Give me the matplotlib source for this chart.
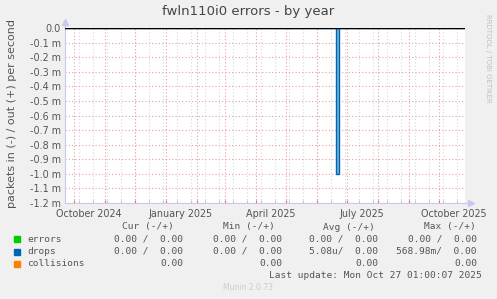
#!/usr/bin/env python3
"""Munin style yearly error graph for fwln110i0."""

import matplotlib
matplotlib.use("Agg")
import matplotlib.pyplot as plt
import matplotlib.dates as mdates
import numpy as np
import pandas as pd

# window: 400 days ending at last update
start = pd.Timestamp("2024-09-22 01:00")
end = pd.Timestamp("2025-10-27 01:00")

# drops (in, per second) -- a single spike in June 2025
drops_dates = ["2024-09-22", "2025-06-20", "2025-06-23", "2025-10-27"]
drops_in = [0.0, 1.0e-3, 0.0, 0.0]

y_ticks = [0.0, -0.1e-3, -0.2e-3, -0.3e-3, -0.4e-3, -0.5e-3, -0.6e-3,
           -0.7e-3, -0.8e-3, -0.9e-3, -1.0e-3, -1.1e-3, -1.2e-3]
y_labels = ["0.0", "-0.1 m", "-0.2 m", "-0.3 m", "-0.4 m", "-0.5 m", "-0.6 m",
            "-0.7 m", "-0.8 m", "-0.9 m", "-1.0 m", "-1.1 m", "-1.2 m"]
x_label_dates = ["2024-10-16", "2025-01-16", "2025-04-16", "2025-07-16", "2025-10-16"]
x_label_text = ["October 2024", "January 2025", "April 2025", "July 2025", "October 2025"]

legend_names = ["errors", "drops", "collisions"]
legend_colors = ["#00cc00", "#0066b3", "#ff8000"]
cur_vals = ["0.00 /  0.00", "0.00 /  0.00", "0.00"]
min_vals = ["0.00 /  0.00", "0.00 /  0.00", "0.00"]
avg_vals = ["0.00 /  0.00", "5.08u/  0.00", "0.00"]
max_vals = ["0.00 /  0.00", "568.98m/  0.00", "0.00"]

W, H = 497, 299
BG = "#f0f0f0"
TXT = "#555555"
AXC = "#c8c8f0"

fig = plt.figure(figsize=(W / 100, H / 100), dpi=100, facecolor=BG)
ax = fig.add_axes([65 / W, (H - 203) / H, 400 / W, 175 / H], facecolor="white")

x0 = mdates.date2num(start)
x1 = mdates.date2num(end)
ax.set_xlim(x0, x1)
ax.set_ylim(-1.2e-3, 0)

# grid: biweekly grey, monthly red, 0.1m red horizontals
minor_days = pd.date_range("2024-10-06", end, freq="14D")
month_days = pd.date_range("2024-10-01", end, freq="MS")
for d in minor_days:
    ax.axvline(mdates.date2num(d), color="#d8d8d8", lw=0.8, ls=(0, (1, 2)), zorder=1)
for d in month_days:
    ax.axvline(mdates.date2num(d), color="#e8a0a0", lw=0.8, ls=(0, (1, 2)), zorder=1)
for yv in y_ticks[1:]:
    ax.axhline(yv, color="#e8a0a0", lw=0.8, ls=(0, (1, 2)), zorder=1)

# drops spike (negative = in)
dx = mdates.date2num(pd.to_datetime(drops_dates))
dy = -np.array(drops_in)
ax.fill_between(dx, dy, 0, step="post", color="#7fb2d9", lw=0, zorder=2)
ax.step(dx, dy, where="post", color="#0066b3", lw=1.0, zorder=3)
ax.axhline(0, color="black", lw=1.0, zorder=4)

for s in ["top", "right"]:
    ax.spines[s].set_visible(False)
for s in ["left", "bottom"]:
    ax.spines[s].set_color(AXC)
    ax.spines[s].set_linewidth(0.8)

ax.set_yticks(y_ticks)
ax.set_yticklabels(y_labels)
ax.tick_params(axis="y", length=0, pad=3, labelsize=6.9, labelcolor=TXT)
ax.set_xticks(mdates.date2num(month_days))
ax.set_xticklabels([])
ax.set_xticks(mdates.date2num(minor_days), minor=True)
ax.tick_params(axis="x", which="major", length=2, color="#e07070", direction="in")
ax.tick_params(axis="x", which="minor", length=2, color="#bbbbbb", direction="in")

tr = ax.get_xaxis_transform()
for d, t in zip(x_label_dates, x_label_text):
    ax.text(mdates.date2num(pd.Timestamp(d)), -0.035, t, transform=tr,
            ha="center", va="top", fontsize=6.9, color=TXT)

# axis extensions with arrowheads
ax.plot([0, 0], [1.0, 1.03], transform=ax.transAxes, color=AXC, lw=0.8, clip_on=False)
ax.plot([0], [1.035], transform=ax.transAxes, marker="^", ms=4, color=AXC,
        clip_on=False, zorder=5)
ax.plot([1.0, 1.012], [0, 0], transform=ax.transAxes, color=AXC, lw=0.8, clip_on=False)
ax.plot([1.015], [0], transform=ax.transAxes, marker=">", ms=4, color=AXC,
        clip_on=False, zorder=5)


def px(x, y):
    return x / W, 1 - y / H


fig.text(*px(248, 12), "fwln110i0 errors - by year", ha="center", va="center",
         fontsize=9.5, color="#444444")
fig.text(*px(12, 114), "packets in (-) / out (+) per second", rotation=90,
         ha="center", va="center", fontsize=8.0, color=TXT)
fig.text(*px(488, 58), "RRDTOOL / TOBI OETIKER", rotation=270,
         ha="center", va="center", fontsize=5, color="#c0c0c0")

mono = dict(family="DejaVu Sans Mono", fontsize=6.8, color=TXT, va="center")
fig.text(*px(148, 227), "Cur (-/+)", ha="center", **mono)
fig.text(*px(249, 227), "Min (-/+)", ha="center", **mono)
fig.text(*px(349, 227), "Avg (-/+)", ha="center", **mono)
fig.text(*px(450, 227), "Max (-/+)", ha="center", **mono)

row_y = [239, 251.5, 263.5]
for i, name in enumerate(legend_names):
    y = row_y[i]
    fig.patches.append(plt.Rectangle(px(14, y + 3), 6 / W, 6 / H,
                                     transform=fig.transFigure,
                                     color=legend_colors[i]))
    fig.text(*px(27, y), name, ha="left", **mono)
    fig.text(*px(183, y), cur_vals[i], ha="right", **mono)
    fig.text(*px(282, y), min_vals[i], ha="right", **mono)
    fig.text(*px(378, y), avg_vals[i], ha="right", **mono)
    fig.text(*px(477, y), max_vals[i], ha="right", **mono)

fig.text(*px(482, 275.5), "Last update: Mon Oct 27 01:00:07 2025", ha="right", **mono)
fig.text(*px(248, 288), "Munin 2.0.73", ha="center", va="center",
         fontsize=5.5, color="#cccccc")

fig.savefig("out.png", dpi=100, facecolor=BG)
